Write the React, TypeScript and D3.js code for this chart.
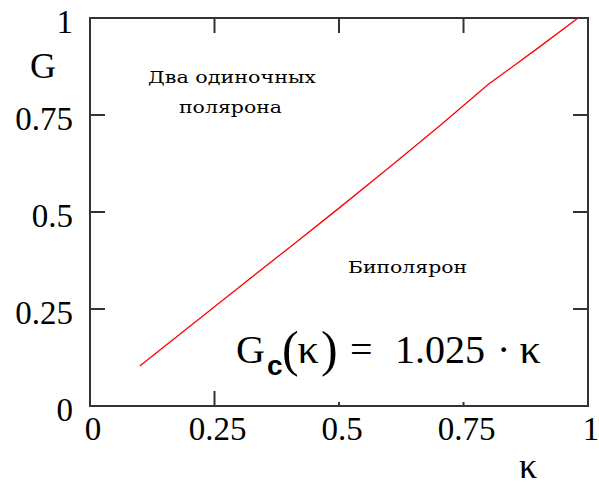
import React from "react";
import * as d3 from "d3";

const kappa = [0.1, 0.2, 0.3, 0.4, 0.5, 0.6, 0.7, 0.8, 0.9, 0.98];
const gValues = [0.103, 0.205, 0.307, 0.408, 0.51, 0.614, 0.72, 0.829, 0.923, 1.0];
const xTicks = [0, 0.25, 0.5, 0.75, 1];
const yTicks = [0, 0.25, 0.5, 0.75, 1];
const xTickLabels = ["0", "0.25", "0.5", "0.75", "1"];
const yTickLabels = ["0", "0.25", "0.5", "0.75", "1"];
const bottomTickLen = [0, 15, 4, 4, 0];

const W = 599;
const H = 488;
const L = 90, R = 588, T = 18, B = 406;

export default function App() {
  const x = d3.scaleLinear().domain([0, 1]).range([L, R]);
  const y = d3.scaleLinear().domain([0, 1]).range([B, T]);
  const line = d3
    .line<number>()
    .x((_, i) => x(kappa[i]))
    .y((d) => y(d));
  const serif = "'Liberation Serif', 'Times New Roman', serif";
  const inner = [0.25, 0.5, 0.75];
  return (
    <svg
      width={W}
      height={H}
      style={{ position: "absolute", left: 0, top: 0, display: "block", background: "#fff" }}
    >
      <rect x={0} y={0} width={W} height={H} fill="#fff" />
      {/* ticks */}
      <g stroke="#333" strokeWidth={2}>
        {inner.map((t) => (
          <g key={"t" + t}>
            <line x1={L} x2={L + 15} y1={y(t)} y2={y(t)} />
            <line x1={R} x2={R - 15} y1={y(t)} y2={y(t)} />
            <line x1={x(t)} x2={x(t)} y1={T} y2={T + 15} />
          </g>
        ))}
        {xTicks.map((t, i) =>
          bottomTickLen[i] > 0 ? (
            <line key={"b" + t} x1={x(t)} x2={x(t)} y1={B} y2={B - bottomTickLen[i]} />
          ) : null
        )}
      </g>
      <rect x={L} y={T} width={R - L} height={B - T} fill="none" stroke="#333" strokeWidth={2} />
      <path d={line(gValues) || ""} fill="none" stroke="#ff0000" strokeWidth={1.3} />
      {/* y tick labels */}
      <g fontFamily={serif} fontSize={33} fill="#000" textAnchor="end">
        {yTicks.map((t, i) => (
          <text key={"yl" + t} x={73} y={y(t) + 15}>
            {yTickLabels[i]}
          </text>
        ))}
      </g>
      <g fontFamily={serif} fontSize={33} fill="#000" textAnchor="middle">
        {xTicks.map((t, i) => (
          <text key={"xl" + t} x={x(t) + 3} y={440}>
            {xTickLabels[i]}
          </text>
        ))}
      </g>
      <text x={43} y={78} fontFamily={serif} fontSize={36} textAnchor="middle">G</text>
      <text x={528} y={478} fontFamily={serif} fontSize={36} textAnchor="middle">κ</text>
      {/* annotations */}
      <g fontFamily="'DejaVu Serif', serif" fontSize={17} fill="#000">
        <text x={148} y={83} textLength={168} lengthAdjust="spacingAndGlyphs">Два одиночных</text>
        <text x={179} y={113} textLength={103} lengthAdjust="spacingAndGlyphs">полярона</text>
        <text x={348} y={273} textLength={119} lengthAdjust="spacingAndGlyphs">Биполярон</text>
      </g>
      {/* formula */}
      <g fontFamily={serif} fill="#000">
        <text x={236} y={363} fontSize={40}>G</text>
        <text x={267} y={375} fontSize={28} fontFamily="'Liberation Sans', sans-serif" fontWeight="bold">c</text>
        <text x={282} y={366} fontSize={50}>(</text>
        <text x={308} y={363} fontSize={42} textAnchor="middle">κ</text>
        <text x={321} y={366} fontSize={50}>)</text>
        <text x={350} y={363} fontSize={40}>=</text>
        <text x={395} y={363} fontSize={40} textLength={90} lengthAdjust="spacingAndGlyphs">1.025</text>
        <text x={497} y={363} fontSize={40}>·</text>
        <text x={530} y={363} fontSize={42} textAnchor="middle">κ</text>
      </g>
    </svg>
  );
}
